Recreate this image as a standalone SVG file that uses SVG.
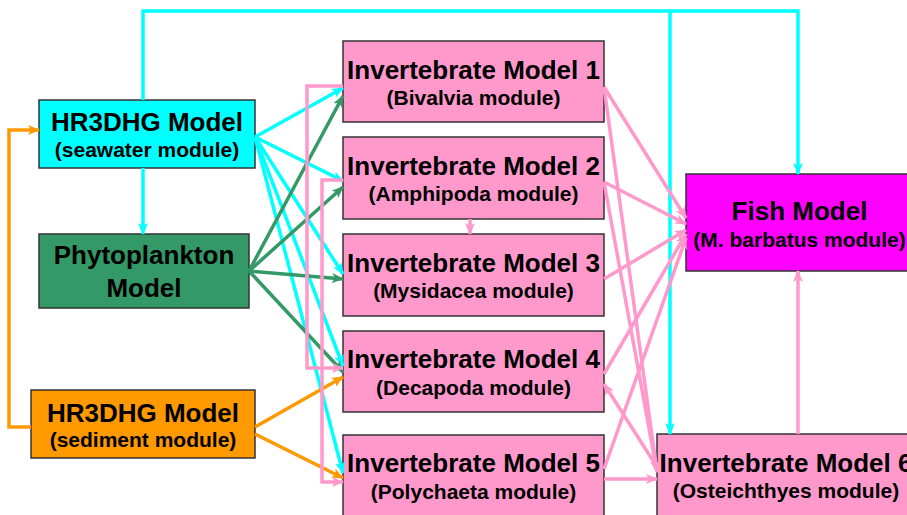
<svg xmlns="http://www.w3.org/2000/svg" width="907" height="515" viewBox="0 0 907 515">
<style>
.box{stroke:#333;stroke-width:1.5}
.t{font-family:"Liberation Sans",Arial,sans-serif;font-weight:bold;font-size:26px;text-anchor:middle;fill:#000}
.s{font-family:"Liberation Sans",Arial,sans-serif;font-weight:bold;font-size:21px;text-anchor:middle;fill:#000}
.c{fill:none;stroke-width:3.5;stroke-linejoin:miter}
.cy{stroke:#00FFFF}
.gr{stroke:#339966}
.or{stroke:#FF9900}
.pk{stroke:#FF99CC}
</style>
<defs>
<marker id="ac" viewBox="0 0 12 10" refX="11" refY="5" markerWidth="12" markerHeight="10" markerUnits="userSpaceOnUse" orient="auto"><path d="M0,0 L12,5 L0,10 L3,5 z" fill="#00FFFF"/></marker>
<marker id="ag" viewBox="0 0 12 10" refX="11" refY="5" markerWidth="12" markerHeight="10" markerUnits="userSpaceOnUse" orient="auto"><path d="M0,0 L12,5 L0,10 L3,5 z" fill="#339966"/></marker>
<marker id="ao" viewBox="0 0 12 10" refX="11" refY="5" markerWidth="12" markerHeight="10" markerUnits="userSpaceOnUse" orient="auto"><path d="M0,0 L12,5 L0,10 L3,5 z" fill="#FF9900"/></marker>
<marker id="ap" viewBox="0 0 12 10" refX="11" refY="5" markerWidth="12" markerHeight="10" markerUnits="userSpaceOnUse" orient="auto"><path d="M0,0 L12,5 L0,10 L3,5 z" fill="#FF99CC"/></marker>
</defs>
<rect width="907" height="515" fill="#fff"/>

<g id="seawater"><rect class="box" x="39" y="100" width="216" height="68" fill="#00FFFF"/><text class="t" x="147" y="131">HR3DHG Model</text><text class="s" x="147" y="157">(seawater module)</text></g>
<g id="phyto"><rect class="box" x="39" y="234" width="210" height="74" fill="#339966"/><text class="t" x="144" y="264">Phytoplankton</text><text class="t" x="144" y="297">Model</text></g>
<g id="sediment"><rect class="box" x="31" y="390" width="224" height="68" fill="#FF9900"/><text class="t" x="143" y="422">HR3DHG Model</text><text class="s" x="143" y="447">(sediment module)</text></g>
<g id="inv1"><rect class="box" x="343" y="41" width="261" height="81" fill="#FF99CC"/><text class="t" x="473.5" y="79">Invertebrate Model 1</text><text class="s" x="473.5" y="105">(Bivalvia module)</text></g>
<g id="inv2"><rect class="box" x="343" y="137" width="261" height="82" fill="#FF99CC"/><text class="t" x="473.5" y="175">Invertebrate Model 2</text><text class="s" x="473.5" y="201">(Amphipoda module)</text></g>
<g id="inv3"><rect class="box" x="343" y="234" width="261" height="82" fill="#FF99CC"/><text class="t" x="473.5" y="272">Invertebrate Model 3</text><text class="s" x="473.5" y="298">(Mysidacea module)</text></g>
<g id="inv4"><rect class="box" x="343" y="331" width="261" height="81" fill="#FF99CC"/><text class="t" x="473.5" y="368">Invertebrate Model 4</text><text class="s" x="473.5" y="395">(Decapoda module)</text></g>
<g id="inv5"><rect class="box" x="343" y="435" width="261" height="82" fill="#FF99CC"/><text class="t" x="473.5" y="472">Invertebrate Model 5</text><text class="s" x="473.5" y="499">(Polychaeta module)</text></g>
<g id="fish"><rect class="box" x="686" y="174" width="227" height="97" fill="#FF00FF"/><text class="t" x="799.5" y="220">Fish Model</text><text class="s" x="799.5" y="247">(M. barbatus module)</text></g>
<g id="inv6"><rect class="box" x="657" y="434" width="258" height="85" fill="#FF99CC"/><text class="t" x="786" y="472">Invertebrate Model 6</text><text class="s" x="786" y="498">(Osteichthyes module)</text></g>

<g id="connectors">
<path class="c cy" d="M143,100 V11 H798 V174" marker-end="url(#ac)"/>
<path class="c cy" d="M670,11 V434" marker-end="url(#ac)"/>
<path class="c cy" d="M143,168 V234" marker-end="url(#ac)"/>
<path class="c cy" d="M255,137 L343,88" marker-end="url(#ac)"/>
<path class="c cy" d="M255,137 L343,181" marker-end="url(#ac)"/>
<path class="c cy" d="M255,137 L343,274" marker-end="url(#ac)"/>
<path class="c cy" d="M255,137 L343,366" marker-end="url(#ac)"/>
<path class="c cy" d="M255,137 L343,473" marker-end="url(#ac)"/>

<path class="c gr" d="M249,271 L343,96" marker-end="url(#ag)"/>
<path class="c gr" d="M249,271 L343,187" marker-end="url(#ag)"/>
<path class="c gr" d="M249,271 L343,279" marker-end="url(#ag)"/>
<path class="c gr" d="M249,271 L343,372" marker-end="url(#ag)"/>

<path class="c or" d="M31,427 H9 V130 H39" marker-end="url(#ao)"/>
<path class="c or" d="M255,427 L343,377" marker-end="url(#ao)"/>
<path class="c or" d="M255,434 L343,478" marker-end="url(#ao)"/>

<path class="c pk" d="M343,86 H307 V368 H343" marker-end="url(#ap)"/>
<path class="c pk" d="M343,180 H322 V482 H343" marker-end="url(#ap)"/>
<path class="c pk" d="M470,219 V234" marker-end="url(#ap)"/>
<path class="c pk" d="M604,87 L686,218" marker-end="url(#ap)"/>
<path class="c pk" d="M604,87 L657,472" marker-end="url(#ap)"/>
<path class="c pk" d="M604,182 L686,224" marker-end="url(#ap)"/>
<path class="c pk" d="M604,182 L657,472" marker-end="url(#ap)"/>
<path class="c pk" d="M604,279 L686,230" marker-end="url(#ap)"/>
<path class="c pk" d="M604,374 L686,234" marker-end="url(#ap)"/>
<path class="c pk" d="M604,469 L686,238" marker-end="url(#ap)"/>
<path class="c pk" d="M604,479 H657" marker-end="url(#ap)"/>
<path class="c pk" d="M657,467 L604,384" marker-end="url(#ap)"/>
<path class="c pk" d="M798,434 V271" marker-end="url(#ap)"/>
</g>
</svg>
